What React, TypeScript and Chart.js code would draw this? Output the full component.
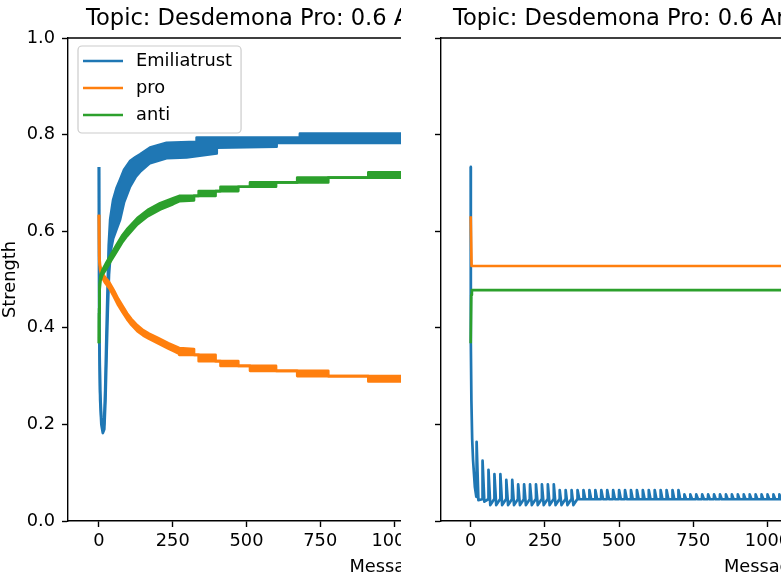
import React, { useEffect, useRef } from 'react';
import { Chart, registerables } from 'chart.js';

Chart.register(...registerables);

const FONT = "'DejaVu Sans', sans-serif";
const BLUE = '#1f77b4';
const ORANGE = '#ff7f0e';
const GREEN = '#2ca02c';
const LW = 2.7;
const TICK_FS = 17.8;
const TITLE_FS = 22.6;

// ---------- text ----------
const seriesLabels = ['Emiliatrust', 'pro', 'anti'];
const panelTitles = ['Topic: Desdemona Pro: 0.6 Anti: 0.4', 'Topic: Desdemona Pro: 0.6 Anti: 0.4'];
const xAxisLabel = 'Messages';
const yAxisLabel = 'Strength';
const xTickValues = [0, 250, 500, 750, 1000, 1250, 1500, 1750, 2000];
const yTickValues = [0, 0.2, 0.4, 0.6, 0.8, 1.0];

// ---------- left panel: upper / lower edges of each oscillating band [message, strength] ----------
const leftTrustUpper: [number, number][] = [
  [0, 0.733], [1, 0.4], [4, 0.27], [8, 0.215], [13, 0.19], [17, 0.2], [21, 0.27], [25, 0.38], [29, 0.48],
  [33, 0.57], [38, 0.625], [48, 0.665], [60, 0.69], [71, 0.706], [85, 0.727], [105, 0.745], [125, 0.754],
  [139, 0.759], [173, 0.773], [229, 0.783], [331, 0.785], [331, 0.794], [681, 0.794], [681, 0.802], [1100, 0.802],
];
const leftTrustLower: [number, number][] = [
  [0, 0.733], [1, 0.38], [4, 0.25], [8, 0.2], [13, 0.182], [18, 0.19], [22, 0.25], [26, 0.35], [30, 0.44],
  [34, 0.51], [40, 0.56], [48, 0.585], [60, 0.605], [71, 0.623], [85, 0.66], [105, 0.692], [125, 0.713],
  [139, 0.723], [173, 0.741], [229, 0.751], [297, 0.753], [399, 0.761], [399, 0.773], [602, 0.775], [602, 0.783], [1100, 0.783],
];
const leftProUpper: [number, number][] = [
  [0, 0.634], [1, 0.548], [4, 0.528], [10, 0.515], [20, 0.505], [35, 0.494], [50, 0.478], [65, 0.46], [80, 0.445],
  [95, 0.43], [110, 0.418], [130, 0.405], [150, 0.395], [170, 0.388], [200, 0.379], [235, 0.368], [272, 0.358],
  [322, 0.356], [322, 0.344], [395, 0.344], [395, 0.331], [472, 0.331], [472, 0.321], [600, 0.321], [600, 0.311],
  [777, 0.311], [777, 0.3], [1060, 0.3], [1060, 0.289], [1100, 0.289],
];
const leftProLower: [number, number][] = [
  [0, 0.634], [1, 0.54], [4, 0.52], [10, 0.505], [20, 0.494], [35, 0.482], [50, 0.465], [65, 0.447], [80, 0.432],
  [95, 0.418], [110, 0.406], [130, 0.393], [150, 0.384], [170, 0.377], [200, 0.368], [235, 0.357], [260, 0.35],
  [272, 0.346], [272, 0.344], [338, 0.344], [338, 0.331], [412, 0.331], [412, 0.321], [512, 0.321], [512, 0.311],
  [672, 0.311], [672, 0.3], [913, 0.3], [913, 0.289], [1100, 0.289],
];
const leftAntiUpper: [number, number][] = [
  [0, 0.368], [0.5, 0.44], [2, 0.49], [5, 0.508], [12, 0.52], [25, 0.535], [40, 0.551], [60, 0.572], [80, 0.592],
  [95, 0.604], [115, 0.617], [130, 0.627], [165, 0.644], [207, 0.658], [251, 0.668], [272, 0.673], [338, 0.673],
  [338, 0.683], [412, 0.683], [412, 0.692], [512, 0.692], [512, 0.701], [672, 0.701], [672, 0.711], [913, 0.711],
  [913, 0.722], [1100, 0.722],
];
const leftAntiLower: [number, number][] = [
  [0, 0.368], [0.5, 0.43], [2, 0.478], [5, 0.497], [12, 0.51], [25, 0.522], [40, 0.538], [60, 0.558], [80, 0.578],
  [95, 0.59], [115, 0.604], [130, 0.614], [165, 0.631], [207, 0.645], [251, 0.656], [272, 0.662], [322, 0.664],
  [322, 0.673], [395, 0.673], [395, 0.683], [472, 0.683], [472, 0.692], [600, 0.692], [600, 0.701], [777, 0.701],
  [777, 0.711], [1060, 0.711], [1060, 0.722], [1100, 0.722],
];

// ---------- right panel ----------
const rightPro: [number, number][] = [[0, 0.631], [3, 0.528], [1100, 0.528]];
const rightAnti: [number, number][] = [[0, 0.368], [2, 0.468], [4, 0.478], [1100, 0.478]];
const rightTrustHead: [number, number][] = [
  [0, 0.733], [0.5, 0.37], [2.4, 0.25], [5, 0.17], [8, 0.126], [14, 0.071], [19, 0.05],
];
const rightSpikeAt = [
  20, 40, 60, 80, 100, 120, 140, 160, 180, 200, 220, 240, 260, 280, 300, 320, 340, 360, 380, 400,
  420, 440, 460, 480, 500, 520, 540, 560, 580, 600, 620, 640, 660, 680, 700, 720, 740, 760, 780, 800,
  820, 840, 860, 880, 900, 920, 940, 960, 980, 1000, 1020, 1040, 1060, 1080,
];
const rightSpikePeak = [
  0.164, 0.125, 0.106, 0.097, 0.097, 0.085, 0.085,
  0.076, 0.076, 0.076, 0.076, 0.076, 0.076, 0.076,
  0.064, 0.064, 0.064, 0.064, 0.064, 0.064, 0.064, 0.064, 0.064, 0.064, 0.064,
  0.064, 0.064, 0.064, 0.064, 0.064, 0.064, 0.064, 0.064, 0.064, 0.064,
  0.055, 0.055, 0.055, 0.055, 0.055, 0.055, 0.055, 0.055, 0.055, 0.055,
  0.055, 0.055, 0.055, 0.055, 0.055, 0.055, 0.055, 0.055, 0.055,
];
const rightSpikeTrough = [
  0.043, 0.04,
  0.033, 0.033, 0.033, 0.033, 0.033, 0.033, 0.033, 0.033, 0.033, 0.033, 0.033, 0.033, 0.033, 0.033, 0.033,
  0.045, 0.045, 0.045, 0.045, 0.045, 0.045, 0.045, 0.045, 0.045, 0.045, 0.045, 0.045, 0.045, 0.045, 0.045,
  0.045, 0.045, 0.045, 0.045, 0.045, 0.045, 0.045, 0.045, 0.045, 0.045, 0.045, 0.045, 0.045, 0.045, 0.045,
  0.045, 0.045, 0.045, 0.045, 0.045, 0.045, 0.045,
];
const rightTrustBase = 0.045;
const SPIKE_DECAY = 6;
const SPIKE_HOLD = 19;

const toXY = (pts: [number, number][]) => pts.map(([x, y]) => ({ x, y }));

function buildRightTrust(): [number, number][] {
  const pts: [number, number][] = [...rightTrustHead];
  rightSpikeAt.forEach((s, i) => {
    pts.push([s, rightSpikePeak[i]], [s + SPIKE_DECAY, rightSpikeTrough[i]], [s + SPIKE_HOLD, rightTrustBase]);
  });
  return pts;
}

// ---------- plugins ----------
const spinesPlugin = {
  id: 'spines',
  afterDraw(chart: any) {
    const { ctx, chartArea } = chart;
    ctx.save();
    ctx.strokeStyle = '#000';
    ctx.lineWidth = 1.4;
    ctx.beginPath();
    ctx.moveTo(chartArea.left, chartArea.top);
    ctx.lineTo(chartArea.right, chartArea.top);
    ctx.lineTo(chartArea.right, chartArea.bottom);
    ctx.stroke();
    ctx.restore();
  },
};

const panelTitlePlugin = {
  id: 'panelTitle',
  afterDraw(chart: any, _args: any, opts: any) {
    if (!opts || !opts.text) return;
    const { ctx, chartArea } = chart;
    ctx.save();
    ctx.font = `${TITLE_FS}px ${FONT}`;
    ctx.fillStyle = '#000';
    ctx.textAlign = 'left';
    ctx.textBaseline = 'alphabetic';
    ctx.fillText(opts.text, chartArea.left + opts.dx, opts.y);
    ctx.restore();
  },
};

const mplLegendPlugin = {
  id: 'mplLegend',
  afterDraw(chart: any, _args: any, opts: any) {
    if (!opts || !opts.show) return;
    const items = chart.data.datasets.filter((d: any) => d.inLegend);
    const { ctx, chartArea } = chart;
    ctx.save();
    ctx.font = `${TICK_FS}px ${FONT}`;
    const maxText = Math.max(...items.map((d: any) => ctx.measureText(d.label).width));
    const fx = chartArea.left + 10;
    const fy = chartArea.top + 8;
    const fw = 5 + 40 + 13 + maxText + 9;
    const fh = 87;
    ctx.beginPath();
    ctx.roundRect(fx, fy, fw, fh, 4);
    ctx.fillStyle = 'rgba(255,255,255,0.8)';
    ctx.fill();
    ctx.strokeStyle = '#cccccc';
    ctx.lineWidth = 1.2;
    ctx.stroke();
    items.forEach((d: any, i: number) => {
      const cy = fy + 15 + i * 27;
      ctx.beginPath();
      ctx.moveTo(fx + 5, cy);
      ctx.lineTo(fx + 45, cy);
      ctx.strokeStyle = d.borderColor;
      ctx.lineWidth = d.borderWidth;
      ctx.stroke();
      ctx.fillStyle = '#000';
      ctx.textAlign = 'left';
      ctx.textBaseline = 'middle';
      ctx.fillText(d.label, fx + 58, cy);
    });
    ctx.restore();
  },
};

// ---------- config ----------
function lineDs(label: string, color: string, pts: [number, number][], order: number, extra: any = {}) {
  return {
    label,
    data: toXY(pts),
    borderColor: color,
    backgroundColor: color,
    borderWidth: LW,
    pointRadius: 0,
    borderJoinStyle: 'round',
    borderCapStyle: 'butt',
    fill: false,
    order,
    ...extra,
  };
}

function makeScales(isLeft: boolean) {
  const font = { family: FONT, size: TICK_FS };
  const grid = { display: true, drawOnChartArea: false, drawTicks: true, tickLength: 6, tickWidth: 1.4, tickColor: '#000' };
  const border = { display: true, color: '#000', width: 1.4 };
  return {
    x: {
      type: 'linear',
      min: isLeft ? -105 : -100,
      max: isLeft ? 2098 : 2100,
      afterBuildTicks: (s: any) => { s.ticks = xTickValues.map((v) => ({ value: v })); },
      afterFit: (s: any) => { s.height = 57; },
      ticks: { color: '#000', font, padding: 4, maxRotation: 0, autoSkip: false, callback: (v: any) => String(v) },
      grid,
      border,
      title: { display: true, text: xAxisLabel, color: '#000', font, padding: 0 },
    },
    y: {
      type: 'linear',
      min: 0,
      max: 1,
      afterBuildTicks: (s: any) => { s.ticks = yTickValues.map((v) => ({ value: v })); },
      afterFit: (s: any) => { s.width = isLeft ? 68 : 40; },
      ticks: { color: '#000', font, padding: 7, callback: (v: any) => (isLeft ? Number(v).toFixed(1) : '') },
      grid,
      border,
      title: { display: isLeft, text: yAxisLabel, color: '#000', font, padding: 0 },
    },
  };
}

function leftConfig(): any {
  return {
    type: 'line',
    data: {
      datasets: [
        lineDs(seriesLabels[0], BLUE, leftTrustUpper, 3, { fill: '+1', inLegend: true }),
        lineDs(seriesLabels[0], BLUE, leftTrustLower, 3),
        lineDs(seriesLabels[1], ORANGE, leftProUpper, 2, { fill: '+1', inLegend: true }),
        lineDs(seriesLabels[1], ORANGE, leftProLower, 2),
        lineDs(seriesLabels[2], GREEN, leftAntiUpper, 1, { fill: '+1', inLegend: true }),
        lineDs(seriesLabels[2], GREEN, leftAntiLower, 1),
      ],
    },
    options: {
      responsive: false,
      animation: false,
      devicePixelRatio: 1,
      events: [],
      layout: { padding: { top: 38, right: 22, bottom: 0, left: 0 } },
      scales: makeScales(true),
      plugins: {
        legend: { display: false },
        tooltip: { enabled: false },
        title: { display: false },
        panelTitle: { text: panelTitles[0], dx: 18, y: 25 },
        mplLegend: { show: true },
      },
    },
    plugins: [spinesPlugin, panelTitlePlugin, mplLegendPlugin],
  };
}

function rightConfig(): any {
  return {
    type: 'line',
    data: {
      datasets: [
        lineDs(seriesLabels[0], BLUE, buildRightTrust(), 3),
        lineDs(seriesLabels[1], ORANGE, rightPro, 2),
        lineDs(seriesLabels[2], GREEN, rightAnti, 1),
      ],
    },
    options: {
      responsive: false,
      animation: false,
      devicePixelRatio: 1,
      events: [],
      layout: { padding: { top: 38, right: 22, bottom: 0, left: 0 } },
      scales: makeScales(false),
      plugins: {
        legend: { display: false },
        tooltip: { enabled: false },
        title: { display: false },
        panelTitle: { text: panelTitles[1], dx: 12, y: 25 },
        mplLegend: { show: false },
      },
    },
    plugins: [spinesPlugin, panelTitlePlugin, mplLegendPlugin],
  };
}

function Panel({ left, width, canvasWidth, makeConfig }: any) {
  const ref = useRef<HTMLCanvasElement>(null);
  useEffect(() => {
    const chart = new Chart(ref.current as HTMLCanvasElement, makeConfig());
    return () => chart.destroy();
  }, []);
  return (
    <div style={{ position: 'absolute', left, top: 0, width, height: 578, overflow: 'hidden' }}>
      <canvas ref={ref} width={canvasWidth} height={578} style={{ display: 'block', width: canvasWidth, height: 578 }} />
    </div>
  );
}

export default function App() {
  return (
    <div style={{ position: 'fixed', left: 0, top: 0, width: 781, height: 578, background: '#fff', overflow: 'hidden' }}>
      <Panel left={0} width={401} canvasWidth={740} makeConfig={leftConfig} />
      <Panel left={401} width={380} canvasWidth={715} makeConfig={rightConfig} />
    </div>
  );
}
